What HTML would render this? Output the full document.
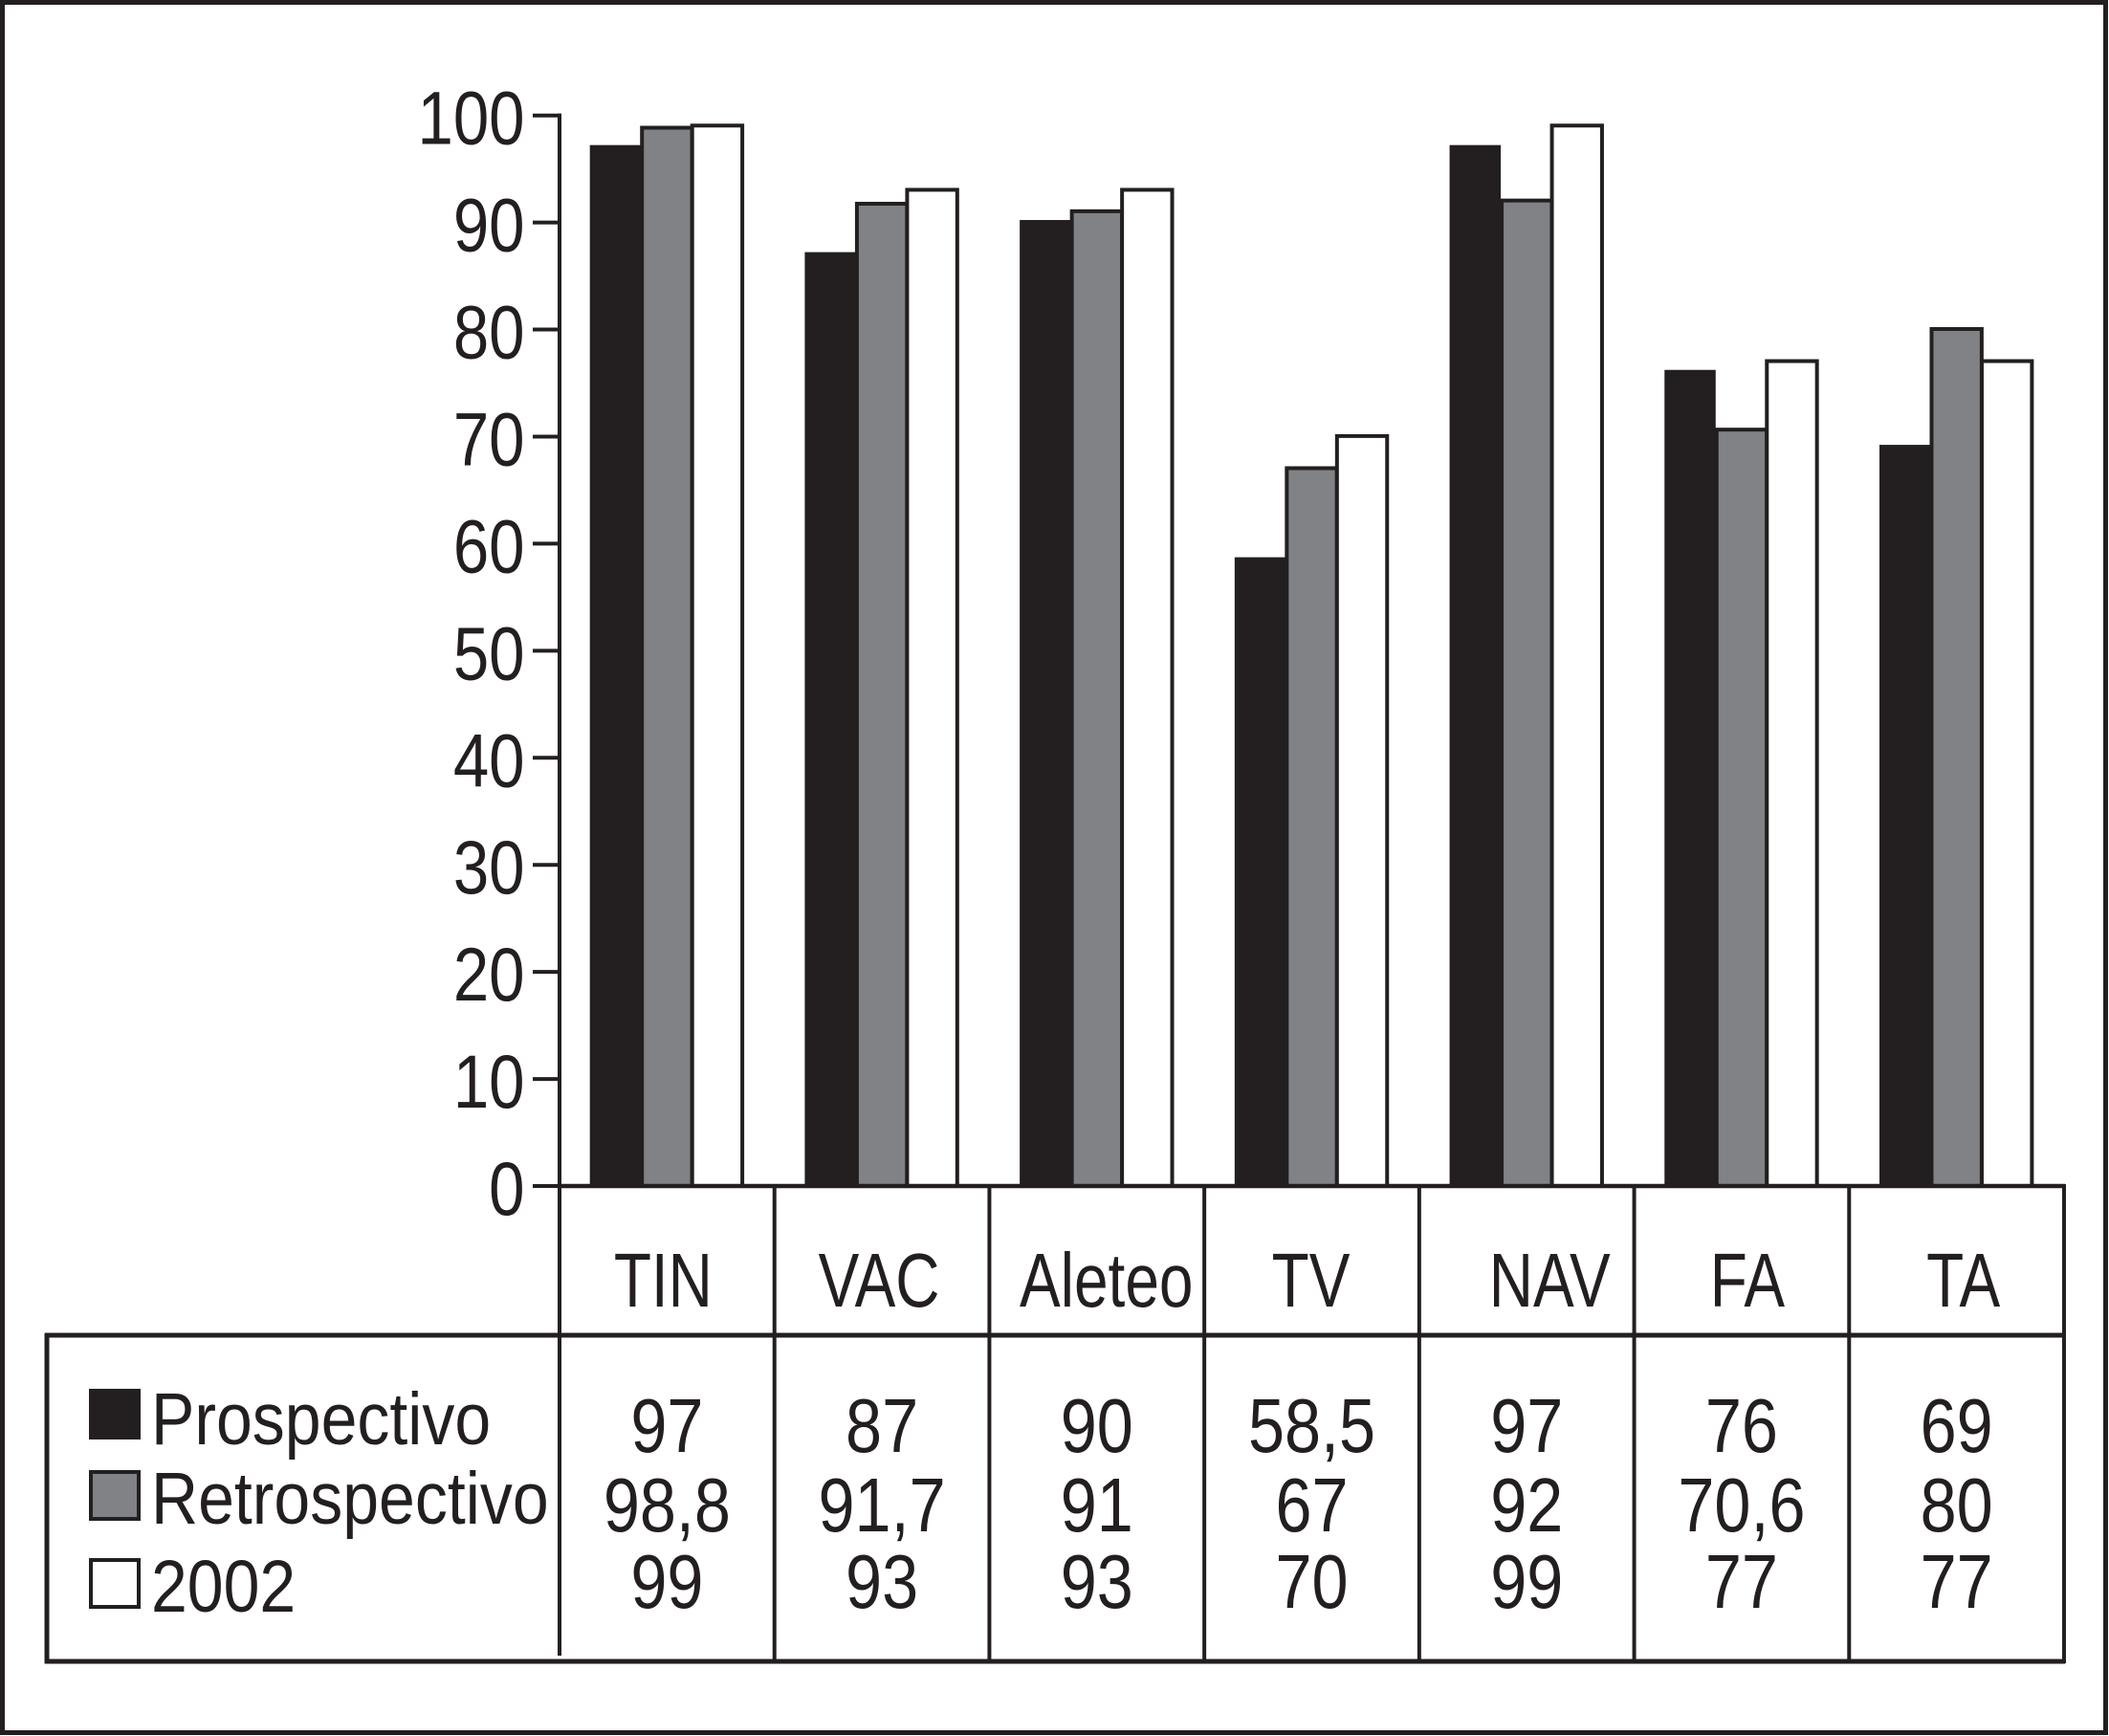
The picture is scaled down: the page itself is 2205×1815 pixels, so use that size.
<!DOCTYPE html>
<html lang="es">
<head>
<meta charset="utf-8">
<title>Bar chart with data table</title>
<style>
html,body{margin:0;padding:0;background:#fff;width:2205px;height:1815px;overflow:hidden}
svg{display:block}
text{font-family:"Liberation Sans Narrow","Liberation Sans",sans-serif;fill:#231f20}
</style>
</head>
<body>
<svg id="chart" xmlns="http://www.w3.org/2000/svg" width="2205" height="1815" viewBox="0 0 2205 1815"></svg>
<script>
// ----- Data -----
const categories = ['TIN', 'VAC', 'Aleteo', 'TV', 'NAV', 'FA', 'TA'];
const prospectivo = [97, 87, 90, 58.5, 97, 76, 69];
const retrospectivo = [98.8, 91.7, 91, 67, 92, 70.6, 80];
const serie2002 = [99, 93, 93, 70, 99, 77, 77];
const seriesNames = ['Prospectivo', 'Retrospectivo', '2002'];
const yTicks = [0, 10, 20, 30, 40, 50, 60, 70, 80, 90, 100];

// ----- Layout -----
const INK = '#231f20';
const GREY = '#808285';
const svg = document.getElementById('chart');
const NS = 'http://www.w3.org/2000/svg';
const axisX = 585, y0 = 1240, y100 = 120.7, tableRight = 2158;
const colW = (tableRight - axisX) / categories.length;
const barPitch = 52.5, barOffset = 31.7, barLift = 2.6;
const categoryNudge = [-4, -3, 10, -1, 24, 6, 7];
const allSeries = [prospectivo, retrospectivo, serie2002];
const seriesFill = [INK, GREY, '#ffffff'];
const seriesKeys = ['prospectivo', 'retrospectivo', '2002'];
const rowBaselines = [1518, 1601, 1681];

function yScale(v) { return y0 - (v / 100) * (y0 - y100); }
function colX(i) { return axisX + i * colW; }

function line(x1, y1, x2, y2, w) {
  const el = document.createElementNS(NS, 'line');
  el.setAttribute('x1', x1);
  el.setAttribute('y1', y1);
  el.setAttribute('x2', x2);
  el.setAttribute('y2', y2);
  el.setAttribute('stroke', INK);
  el.setAttribute('stroke-width', w);
  svg.appendChild(el);
  return el;
}
function rect(x, y, w, h, fill, sw) {
  const el = document.createElementNS(NS, 'rect');
  el.setAttribute('x', x);
  el.setAttribute('y', y);
  el.setAttribute('width', w);
  el.setAttribute('height', h);
  el.setAttribute('fill', fill);
  if (sw) {
    el.setAttribute('stroke', INK);
    el.setAttribute('stroke-width', sw);
  }
  svg.appendChild(el);
  return el;
}
function label(str, x, y, size, sx, anchor) {
  const el = document.createElementNS(NS, 'text');
  el.textContent = str;
  el.setAttribute('transform', 'translate(' + x + ' ' + y + ') scale(' + sx + ' 1)');
  el.setAttribute('font-size', size);
  el.setAttribute('text-anchor', anchor);
  svg.appendChild(el);
  return el;
}
function fmt(v) { return String(v).replace('.', ','); }

// ----- Outer frame -----
const frame = rect(2.5, 2.5, 2199, 1809, '#ffffff', 5);



// ----- Bars -----
categories.forEach(function (cat, i) {
  allSeries.forEach(function (values, s) {
    const x = colX(i) + barOffset + s * barPitch;
    const top = yScale(values[i]) - barLift;
    let bar;
    if (s === 0) {
      bar = rect(x, top, barPitch + 1, y0 - top, seriesFill[s], 0);
    } else {
      bar = rect(x + 2, top + 2, barPitch - 0.1, y0 - top - 2, seriesFill[s], 4);
    }
    
    
  });
});

// ----- Y axis -----
const yAxis = line(axisX, y100 - 2, axisX, 1731, 4);


yTicks.forEach(function (t) {
  const tick = line(557, yScale(t), axisX + 2, yScale(t), 4);
  
  
  const tl = label(String(t), 548.5, yScale(t) + 30, 79, 0.85, 'end');
  
  
});

// ----- Table rules -----
const xAxis = line(axisX, y0, tableRight + 1, y0, 4.5);


const headRule = line(47, 1396, tableRight + 1, 1396, 5);


const bottomRule = line(47, 1737, tableRight + 1, 1737, 5);


const leftRule = line(49, 1394, 49, 1739, 5);


const rightRule = line(tableRight, y0 - 2, tableRight, 1739, 4);


categories.forEach(function (cat, i) {
  if (i === 0) return;
  const sep = line(colX(i), y0, colX(i), 1737, 4);
  
  
});

// ----- Category labels and printed values -----
categories.forEach(function (cat, i) {
  const centre = colX(i) + colW / 2;
  const cl = label(cat, centre + categoryNudge[i], 1366, 80, 0.8, 'middle');
  
  
  allSeries.forEach(function (values, s) {
    const v = label(fmt(values[i]), centre, rowBaselines[s], 80, 0.855, 'middle');
    
    
  });
});

// ----- Legend -----
const swatchTop = [1452, 1537, 1629];
const legendBaselines = [1510, 1593, 1685];
seriesNames.forEach(function (name, s) {
  const sw = s === 0
    ? rect(93, swatchTop[s], 54, 53, seriesFill[s], 0)
    : rect(95, swatchTop[s] + 2, 50, 49, seriesFill[s], 4);
  
  
  const lt = label(name, 158, legendBaselines[s], 77, 0.883, 'start');
  
  
});
</script>
</body>
</html>
